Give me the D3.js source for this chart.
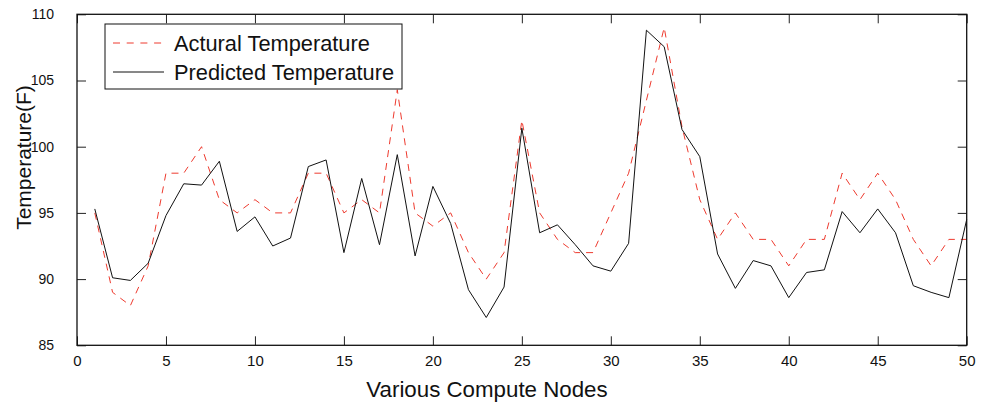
<!DOCTYPE html>
<html>
<head>
<meta charset="utf-8">
<script src="https://cdn.jsdelivr.net/npm/d3@7"></script>
<style>
  html, body { margin: 0; padding: 0; background: #fff; }
  svg { display: block; font-family: "Liberation Sans", Arial, Helvetica, sans-serif; }
</style>
</head>
<body>
<svg id="chart" width="989" height="404"></svg>
<script>
// ---- data ----
const nodes = d3.range(1, 51);
const actualTemp = [95, 89, 88, 91, 98, 98, 100, 96, 95, 96,
                    95, 95, 98, 98, 95, 96, 95, 104.3, 95, 94,
                    95, 92, 90, 92, 102, 95, 93, 92, 92, 95,
                    98, 103.5, 109, 101.5, 96, 93, 95, 93, 93, 91,
                    93, 93, 98, 96, 98, 96, 93, 91, 93, 93];
const predictedTemp = [95.3, 90.1, 89.9, 91.2, 94.8, 97.2, 97.1, 98.9, 93.6, 94.7,
                       92.5, 93.1, 98.5, 99.0, 92.0, 97.6, 92.6, 99.4, 91.75, 97.0,
                       94.2, 89.2, 87.1, 89.4, 101.4, 93.5, 94.1, 92.6, 91.0, 90.6,
                       92.7, 108.8, 107.55, 101.3, 99.25, 91.9, 89.3, 91.4, 91.0, 88.6,
                       90.5, 90.7, 95.1, 93.5, 95.3, 93.5, 89.5, 89.0, 88.6, 94.5];
const xTicks = [0, 5, 10, 15, 20, 25, 30, 35, 40, 45, 50];
const yTicks = [85, 90, 95, 100, 105, 110];
const seriesNames = ["Actural Temperature", "Predicted Temperature"];
const xTitle = "Various Compute Nodes";
const yTitle = "Temperature(F)";

// ---- layout ----
const svg = d3.select("#chart");
const L = 77, R = 966.7, T = 14.3, B = 345.3;
const x = d3.scaleLinear().domain([0, 50]).range([L, R]);
const y = d3.scaleLinear().domain([85, 110]).range([B, T]);
const red = "#ee3a2e";

// lines
const line = d3.line().x((d, i) => x(nodes[i])).y(d => y(d));
svg.append("path").datum(actualTemp)
  .attr("d", line).attr("fill", "none")
  .attr("stroke", red).attr("stroke-width", 1).attr("stroke-dasharray", "7,6");
svg.append("path").datum(predictedTemp)
  .attr("d", line).attr("fill", "none")
  .attr("stroke", "#111").attr("stroke-width", 1);

// axes (inward ticks on all sides)
const tl = 9;
const axB = d3.axisBottom(x).tickValues(xTicks).tickSizeInner(-tl).tickSizeOuter(0);
const axT = d3.axisTop(x).tickValues(xTicks).tickSizeInner(-tl).tickSizeOuter(0).tickFormat("");
const axL = d3.axisLeft(y).tickValues(yTicks).tickSizeInner(-tl).tickSizeOuter(0).tickPadding(14 + tl);
const axR = d3.axisRight(y).tickValues(yTicks).tickSizeInner(-tl).tickSizeOuter(0).tickFormat("");

function style(g, fs) {
  g.select(".domain").remove();
  g.selectAll("line").attr("stroke", "#222").attr("stroke-width", 1);
  g.selectAll("text").attr("fill", "#111").attr("font-size", fs)
    .attr("font-family", "Liberation Sans, Arial, sans-serif");
}
svg.append("g").attr("transform", `translate(0,${B})`).call(axB).call(style, 15)
  .selectAll("text").attr("dy", 0).attr("y", 20.5);
svg.append("g").attr("transform", `translate(0,${T})`).call(axT).call(style, 14);
svg.append("g").attr("transform", `translate(${L},0)`).call(axL).call(style, 14);
svg.append("g").attr("transform", `translate(${R},0)`).call(axR).call(style, 14);

// frame
svg.append("rect").attr("x", L).attr("y", T).attr("width", R - L).attr("height", B - T)
  .attr("fill", "none").attr("stroke", "#111").attr("stroke-width", 1.3);

// titles
svg.append("text").attr("x", 487).attr("y", 397).attr("text-anchor", "middle")
  .attr("font-size", 22.3).attr("fill", "#111").text(xTitle);
svg.append("text").attr("transform", "translate(31,157.5) rotate(-90)")
  .attr("text-anchor", "middle").attr("font-size", 21).attr("fill", "#111").text(yTitle);

// legend
const lg = svg.append("g");
lg.append("rect").attr("x", 105).attr("y", 24).attr("width", 297).attr("height", 65)
  .attr("fill", "#fff").attr("stroke", "#111").attr("stroke-width", 1);
const rows = [
  { name: seriesNames[0], color: red, dash: "7,6.7", yy: 43 },
  { name: seriesNames[1], color: "#111", dash: null, yy: 72 }
];
rows.forEach(r => {
  lg.append("line").attr("x1", 113).attr("x2", 164).attr("y1", r.yy).attr("y2", r.yy)
    .attr("stroke", r.color).attr("stroke-width", 1)
    .attr("stroke-dasharray", r.dash);
  lg.append("text").attr("x", 174).attr("y", r.yy + 7.8)
    .attr("font-size", 21.8).attr("fill", "#111").text(r.name);
});
</script>
</body>
</html>
